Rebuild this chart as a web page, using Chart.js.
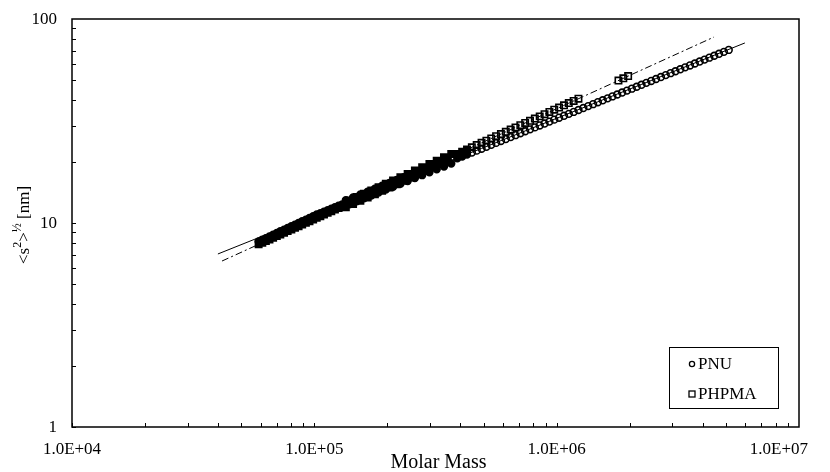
<!DOCTYPE html>
<html lang="en">
<head>
<meta charset="UTF-8">
<title>Radius of gyration vs molar mass</title>
<script src="https://cdn.jsdelivr.net/npm/chart.js"></script>
<style>
  html, body { margin: 0; padding: 0; background: #fff; }
  #chart { display: block; }
</style>
</head>
<body>
<canvas id="chart" width="830" height="472"></canvas>
<script>
// values (molar mass in g/mol, <s2>^1/2 in nm)
const pnuMass = [
  58900, 61000, 63100, 65300, 67600, 70000, 72400, 75000, 77600, 80400,
  83200, 86100, 89100, 92300, 95500, 98900, 102300, 105900, 109600, 113500,
  117500, 121600, 125900, 130300, 134900, 139600, 144500, 149600, 154900, 160300,
  166000, 171800, 177800, 184100, 190500, 197200, 204200, 211300, 218800, 226500,
  234400, 242700, 251200, 260000, 269200, 278600, 288400, 298500, 309000, 319900,
  331100, 342800, 354800, 367300,
  389000, 407400, 426600, 446700, 467700, 489800, 512900, 537000, 562300, 588800,
  616600, 645700, 676100, 707900, 741300, 776200, 812800, 851100, 891300, 933300,
  977200, 1023000, 1072000, 1122000, 1175000, 1230000, 1288000, 1349000, 1413000, 1479000,
  1549000, 1622000, 1698000, 1778000, 1862000, 1950000, 2042000, 2138000, 2239000, 2344000,
  2455000, 2570000, 2692000, 2818000, 2951000, 3090000, 3236000, 3388000, 3548000, 3715000,
  3890000, 4074000, 4266000, 4467000, 4677000, 4898000, 5129000
];
const pnuSize = [
  8.12, 8.28, 8.43, 8.60, 8.77, 8.93, 9.11, 9.28, 9.46, 9.64,
  9.82, 10.00, 10.20, 10.39, 10.59, 10.79, 11.00, 11.18, 11.37, 11.55,
  11.74, 11.94, 12.14, 12.34, 12.92, 12.36, 13.35, 12.78, 13.79, 13.20,
  14.25, 13.64, 14.73, 14.10, 15.22, 14.57, 15.72, 15.05, 16.25, 15.55,
  16.79, 16.07, 17.35, 16.61, 17.93, 17.16, 18.52, 17.73, 19.14, 18.32,
  19.78, 18.93, 20.44, 19.56,
  20.74, 21.19, 21.66, 22.14, 22.63, 23.13, 23.64, 24.16, 24.70, 25.24,
  25.80, 26.37, 26.95, 27.55, 28.16, 28.78, 29.42, 30.07, 30.73, 31.41,
  32.11, 32.82, 33.54, 34.28, 35.04, 35.81, 36.61, 37.41, 38.24, 39.09,
  39.95, 40.83, 41.74, 42.66, 43.60, 44.56, 45.55, 46.56, 47.59, 48.64,
  49.71, 50.81, 51.93, 53.08, 54.26, 55.45, 56.68, 57.93, 59.21, 60.52,
  61.86, 63.23, 64.63, 66.06, 67.52, 69.01, 70.54
];

const phpmaMass = [
  58900, 61000, 63100, 65300, 67600, 70000, 72400, 75000, 77600, 80400,
  83200, 86100, 89100, 92300, 95500, 98900, 102300, 105900, 109600, 113500,
  117500, 121600, 125900, 130300, 134900, 139600, 144500, 149600, 154900, 160300,
  166000, 171800, 177800, 184100, 190500, 197200, 204200, 211300, 218800, 226500,
  234400, 242700, 251200, 260000, 269200, 278600, 288400, 298500, 309000, 319900,
  331100, 342800, 354800, 367300,
  389000, 407400, 426600, 446700, 467700, 489800, 512900, 537000, 562300, 588800,
  616600, 645700, 676100, 707900, 741300, 776200, 812800, 851100, 891300, 933300,
  977200, 1023000, 1072000, 1122000, 1175000, 1230000,
  1799000, 1884000, 1972000
];
const phpmaSize = [
  7.86, 8.01, 8.16, 8.31, 8.47, 8.63, 8.79, 8.96, 9.13, 9.30,
  9.47, 9.65, 9.83, 10.02, 10.21, 10.40, 10.60, 10.80, 11.00, 11.21,
  11.42, 11.63, 11.85, 12.07, 11.93, 12.91, 12.39, 13.40, 12.86, 13.91,
  13.35, 14.44, 13.85, 14.99, 14.38, 15.56, 14.93, 16.15, 15.50, 16.77,
  16.09, 17.40, 16.70, 18.07, 17.33, 18.75, 17.99, 19.47, 18.68, 20.21,
  19.39, 20.98, 20.13, 21.78,
  21.82, 22.37, 22.93, 23.51, 24.11, 24.71, 25.34, 25.98, 26.63, 27.30,
  27.99, 28.70, 29.42, 30.16, 30.92, 31.70, 32.50, 33.32, 34.16, 35.03,
  35.91, 36.81, 37.74, 38.70, 39.67, 40.67,
  49.94, 51.20, 52.49
];

// fitted lines, end points only
const pnuFitMass = [40000, 5980000];
const pnuFitSize = [7.05, 76.3];
const phpmaFitMass = [41600, 4460000];
const phpmaFitSize = [6.51, 81.6];

const xTickValues = [1e4, 1e5, 1e6, 1e7];
const xTickLabels = ['1.0E+04', '1.0E+05', '1.0E+06', '1.0E+07'];
const yTickValues = [1, 10, 100];
const yTickLabels = ['1', '10', '100'];
const seriesNames = ['PNU', 'PHPMA'];

const serif = '"Liberation Serif", "DejaVu Serif", serif';
const ink = '#000';
// below this mass the scanned markers merge into one solid band
const denseLimit = 430000;

function pairs(xs, ys) {
  return xs.map((v, i) => ({ x: v, y: ys[i] }));
}

function markerFill(c) {
  return c.raw && c.raw.x < denseLimit ? ink : 'rgba(255,255,255,0)';
}

// frame, inward ticks, labels, titles and the boxed legend
const paperAxes = {
  id: 'paperAxes',
  afterDatasetsDraw(chart) {
    const { ctx, chartArea: a, scales: { x, y } } = chart;
    ctx.save();
    ctx.strokeStyle = ink;
    ctx.lineWidth = 1;

    ctx.beginPath();
    for (let d = 1e4; d < 1e7; d *= 10) {
      for (let m = 1; m <= 9; m++) {
        const px = Math.round(x.getPixelForValue(d * m)) + 0.5;
        ctx.moveTo(px, a.bottom);
        ctx.lineTo(px, a.bottom - 4);
      }
    }
    for (let d = 1; d < 100; d *= 10) {
      for (let m = 1; m <= 9; m++) {
        const py = Math.round(y.getPixelForValue(d * m)) + 0.5;
        ctx.moveTo(a.left, py);
        ctx.lineTo(a.left + 4, py);
      }
    }
    ctx.stroke();

    ctx.lineWidth = 1.5;
    ctx.strokeRect(a.left, a.top, a.right - a.left, a.bottom - a.top);

    // tick labels
    ctx.fillStyle = ink;
    ctx.font = '17px ' + serif;
    ctx.textAlign = 'center';
    ctx.textBaseline = 'middle';
    xTickValues.forEach((v, i) => {
      const w = ctx.measureText(xTickLabels[i]).width;
      let px = x.getPixelForValue(v);
      px = Math.min(px, chart.width - 22 - w / 2);
      ctx.fillText(xTickLabels[i], px, a.bottom + 23);
    });
    ctx.textAlign = 'right';
    yTickValues.forEach((v, i) => {
      ctx.fillText(yTickLabels[i], a.left - 15, y.getPixelForValue(v) + 1);
    });

    // x title
    ctx.textAlign = 'center';
    ctx.font = '20px ' + serif;
    ctx.fillText('Molar Mass', (a.left + a.right) / 2 + 3, a.bottom + 36);

    // y title: <s²>½ [nm], rotated
    ctx.save();
    ctx.translate(25, (a.top + a.bottom) / 2 + 2);
    ctx.rotate(-Math.PI / 2);
    const big = '17px ' + serif, small = '12px ' + serif;
    const parts = [['<s', big, 0], ['2', small, -7], ['>', big, 0], ['½', small, -7], [' [nm]', big, 0]];
    let total = 0;
    parts.forEach(p => { ctx.font = p[1]; total += ctx.measureText(p[0]).width; });
    let cx = -total / 2;
    ctx.textAlign = 'left';
    parts.forEach(p => {
      ctx.font = p[1];
      ctx.fillText(p[0], cx, p[2]);
      cx += ctx.measureText(p[0]).width;
    });
    ctx.restore();

    // legend box
    const lx = a.right - 130, ly = a.bottom - 80, lw = 109, lh = 61;
    ctx.lineWidth = 1;
    ctx.strokeRect(lx + 0.5, ly + 0.5, lw, lh);
    ctx.font = '17px ' + serif;
    ctx.textAlign = 'left';
    ctx.textBaseline = 'middle';
    ctx.lineWidth = 1.3;
    const rowY = [ly + 17, ly + 47];
    ctx.beginPath();
    ctx.arc(lx + 23, rowY[0], 2.6, 0, Math.PI * 2);
    ctx.stroke();
    ctx.strokeRect(lx + 20, rowY[1] - 3, 6, 6);
    ctx.fillText(seriesNames[0], lx + 29, rowY[0] + 1);
    ctx.fillText(seriesNames[1], lx + 29, rowY[1] + 1);
    ctx.restore();
  }
};

new Chart(document.getElementById('chart'), {
  type: 'scatter',
  data: {
    datasets: [
      {
        label: seriesNames[0],
        data: pairs(pnuMass, pnuSize),
        pointStyle: 'circle',
        pointRadius: 3.4,
        pointBorderWidth: 1.6,
        pointBorderColor: ink,
        pointBackgroundColor: markerFill,
        order: 1
      },
      {
        label: seriesNames[1],
        data: pairs(phpmaMass, phpmaSize),
        pointStyle: 'rect',
        pointRadius: 4.5,
        pointBorderWidth: 1.6,
        pointBorderColor: ink,
        pointBackgroundColor: markerFill,
        order: 1
      },
      {
        label: 'PNU fit',
        data: pairs(pnuFitMass, pnuFitSize),
        showLine: true,
        pointRadius: 0,
        borderColor: ink,
        borderWidth: 1,
        order: 2
      },
      {
        label: 'PHPMA fit',
        data: pairs(phpmaFitMass, phpmaFitSize),
        showLine: true,
        pointRadius: 0,
        borderColor: ink,
        borderWidth: 1,
        borderDash: [7, 3, 2, 3],
        order: 2
      }
    ]
  },
  options: {
    responsive: false,
    animation: false,
    events: [],
    layout: { autoPadding: false, padding: { top: 19, right: 31, left: 0, bottom: 0 } },
    plugins: {
      legend: { display: false },
      tooltip: { enabled: false }
    },
    scales: {
      x: {
        type: 'logarithmic',
        min: 1e4,
        max: 1e7,
        ticks: { display: false },
        grid: { display: false },
        border: { display: false },
        afterFit: s => { s.height = 45; }
      },
      y: {
        type: 'logarithmic',
        min: 1,
        max: 100,
        ticks: { display: false },
        grid: { display: false },
        border: { display: false },
        afterFit: s => { s.width = 72; }
      }
    }
  },
  plugins: [paperAxes]
});
</script>
</body>
</html>
